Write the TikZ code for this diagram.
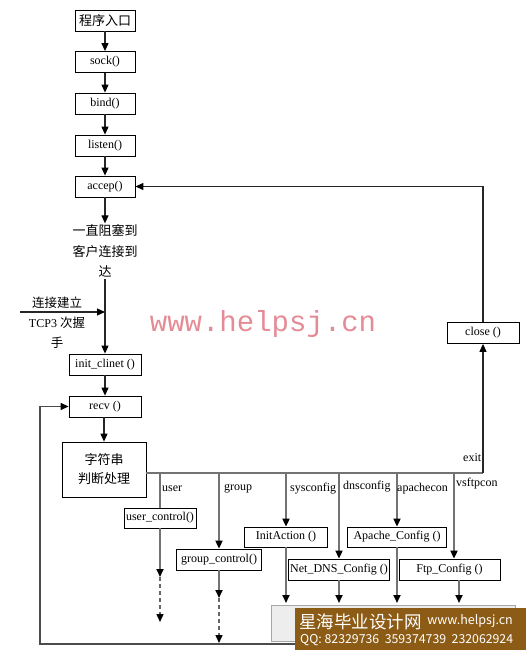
\documentclass[tikz,border=0pt]{standalone}
\usepackage{fontspec}
\setmainfont{Liberation Serif}
\newfontfamily\cjk{Noto Sans CJK SC}
\newfontfamily\wmfont{Liberation Mono}
\usetikzlibrary{arrows.meta}
\definecolor{wmpink}{RGB}{228,140,150}
\definecolor{bannerbrown}{RGB}{140,92,22}
\begin{document}
\begin{tikzpicture}[x=1pt,y=-1pt,
  box/.style={draw, fill=white, inner sep=0pt, minimum height=21pt, line width=0.8pt, font=\fontsize{12}{14}\selectfont},
  flow/.style={draw=black!85, line width=1.1pt},
  arr/.style={-{Triangle[length=8pt,width=7pt,color=black]}},
  bus/.style={draw=black!55, line width=1.8pt},
  dashbus/.style={draw=black!60, line width=1.4pt, dash pattern=on 4pt off 3pt},
  loopline/.style={draw=black!70, line width=1.3pt},
  lbl/.style={font=\fontsize{12}{14}\selectfont, inner sep=0pt, anchor=west},
  cn/.style={font=\cjk\fontsize{13}{20.5}\selectfont, align=center, inner sep=1pt}
]
\useasboundingbox (0,0) rectangle (526,650);

% main column
\node[box, minimum width=60pt, font=\cjk\fontsize{13}{15}\selectfont] (entry) at (105,20.5) {程序入口};
\node[box, minimum width=60pt] (sock) at (105,62) {sock()};
\node[box, minimum width=60pt] (bind) at (105,103.5) {bind()};
\node[box, minimum width=60pt] (listen) at (105,145.5) {listen()};
\node[box, minimum width=60pt] (accep) at (105,186.5) {accep()};
\node[cn] (wait) at (105,251) {一直阻塞到\\客户连接到\\达};
\node[box, minimum width=72pt] (init) at (105,364.5) {init\_clinet ()};
\node[box, minimum width=72pt] (recv) at (105,406.5) {recv ()};
\node[box, minimum width=84pt, minimum height=55pt, font=\cjk\fontsize{13}{19}\selectfont, align=center] (str) at (104,469.5) {字符串\\判断处理};
\node[box, minimum width=72pt] (close) at (483,333) {close ()};

\draw[flow,arr] (entry) -- (sock);
\draw[flow,arr] (sock) -- (bind);
\draw[flow,arr] (bind) -- (listen);
\draw[flow,arr] (listen) -- (accep);
\draw[flow,arr] (accep) -- (wait);
\draw[flow,arr] (wait.south) -- (wait.south |- init.north);
\draw[flow,arr] (init) -- (recv);
\draw[flow,arr] (recv.south -| str.north) -- (str.north);

% TCP handshake
\coordinate (tcpin) at (20,312);
\draw[flow,arr] (tcpin) -- (tcpin -| wait.south);
\node[cn, font=\cjk\fontsize{12.5}{14}\selectfont] (tcp1) at (57,303) {连接建立};
\node[inner sep=1pt, font=\fontsize{12}{14}\selectfont] (tcp2) at (57,323) {TCP3 {\cjk\fontsize{12.5}{14}\selectfont 次握}};
\node[cn, font=\cjk\fontsize{12.5}{14}\selectfont] (tcp3) at (57,343) {手};

% bus
\coordinate (bx) at (483,473);
\draw[bus] (str.east |- bx) -- (bx);
\draw[flow,arr] (bx) -- (close.south);
\draw[flow,arr] (close.north) |- (accep.east);
\node[lbl] (exitl) at (463,458) {exit};

% branch boxes
\node[box, minimum width=72pt, minimum height=20pt] (uc) at (160,518) {user\_control()};
\node[box, minimum width=85pt] (gc) at (219,559.5) {group\_control()};
\node[box, minimum width=83pt, minimum height=20pt] (ia) at (286,537) {InitAction ()};
\node[box, minimum width=101pt] (nd) at (339,569.5) {Net\_DNS\_Config ()};
\node[box, minimum width=99pt, minimum height=20pt] (ap) at (397,537) {Apache\_Config ()};
\node[box, minimum width=101pt] (ftp) at (449.5,569.5) {Ftp\_Config ()};

\coordinate (bu) at (160,473);
\coordinate (bg) at (219,473);
\coordinate (bs) at (286,473);
\coordinate (bd) at (339,473);
\coordinate (ba) at (397,473);
\coordinate (bv) at (454,473);

\coordinate (ua) at (160,577);
\coordinate (ub) at (160,622);
\coordinate (ga) at (219,598);
\coordinate (gb) at (219,643);
\coordinate (sa) at (286,603);
\coordinate (da) at (339,603);
\coordinate (aa) at (397,603);
\coordinate (va) at (459,603);

\draw[bus] (bu) -- (uc.north);
\draw[bus,arr] (uc.south) -- (ua);
\draw[dashbus,arr] (ua) -- (ub);

\draw[bus,arr] (bg) -- (gc.north);
\draw[bus,arr] (gc.south) -- (ga);
\draw[dashbus,arr] (ga) -- (gb);

\draw[bus,arr] (bs) -- (ia.north);
\draw[bus,arr] (ia.south) -- (sa);

\draw[bus,arr] (bd) -- (nd.north);
\draw[bus,arr] (nd.south) -- (da);

\draw[bus,arr] (ba) -- (ap.north);
\draw[bus,arr] (ap.south) -- (aa);

\draw[bus,arr] (bv) -- (bv |- ftp.north);
\draw[bus,arr] (va |- ftp.south) -- (va);

\node[lbl] (lu) at (162,489) {user};
\node[lbl] (lg) at (224,489) {group};
\node[lbl] (ls) at (290,489) {sysconfig};
\node[lbl] (ld) at (343,487) {dnsconfig};
\node[lbl] (la) at (397,489) {apachecon};
\node[lbl] (lv) at (456,484) {vsftpcon};

% loop back to recv
\coordinate (lb) at (300,644);
\coordinate (lc) at (40,644);
\draw[loopline,arr] (lb) -- (lc) |- (recv.west);

% watermarks
\node[text=wmpink, font=\wmfont\fontsize{29}{29}\selectfont, inner sep=0pt] (wm) at (263,324) {www.helpsj.cn};
\node[draw=black!35, fill=black!7, minimum width=244pt, minimum height=36pt, inner sep=0pt] (grey) at (393,623) {};
\node[fill=bannerbrown, minimum width=231pt, minimum height=42pt, inner sep=0pt, anchor=north west] (banner) at (295,608) {};
\node[text=white, font=\cjk\fontsize{17.5}{18}\selectfont, anchor=west, inner sep=0pt] (bt1) at (299,622) {星海毕业设计网};
\node[text=white, font=\cjk\fontsize{12.5}{14}\selectfont, anchor=east, inner sep=0pt] (bt2) at (513,621) {www.helpsj.cn};
\node[text=white, font=\cjk\fontsize{12.3}{14}\selectfont, anchor=west, inner sep=0pt] (bt3) at (300,640) {QQ: 82329736\ \ 359374739\ \ 232062924};
\end{tikzpicture}
\end{document}
